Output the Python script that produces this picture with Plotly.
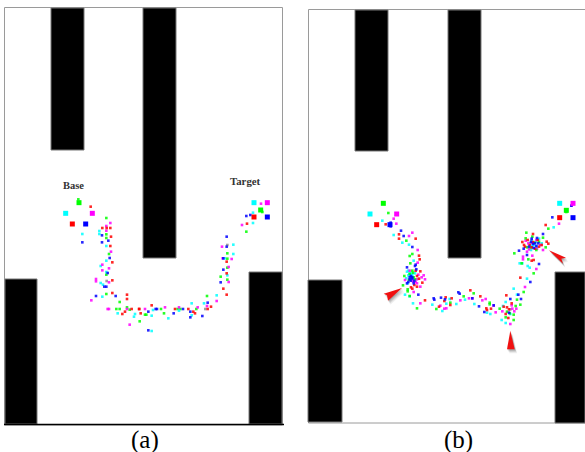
import numpy as np
import plotly.graph_objects as go

# Panel (a) readings, in crop units (origin 50,170; 3 units per picture pixel)
a_big = {"#00ff00": [(87,98),(632,120)], "#00ffff": [(47,130),(612,98)], "#ff00ff": [(127,130),(652,98)],
         "#ff0000": [(67,162),(612,141)], "#0000ff": [(107,162),(652,141)]}
a_red = [(122,110),(157,174),(181,174),(183,200),(181,228),(187,277),(187,331),(187,369),(231,374),(231,387),(225,425),(217,432),(245,417),(272,430),(267,417),(305,406),(375,417),(415,417),(430,425),(435,430),(473,417),(483,410),(530,374),(520,356),(530,310),(530,275),(591,161),(170,174),(268,417)]
a_green = [(85,88),(169,144),(169,193),(169,204),(177,252),(169,314),(169,372),(209,396),(199,417),(209,417),(231,412),(239,419),(285,434),(289,434),(269,454),(333,417),(342,430),(383,417),(391,417),(439,417),(471,378),(512,320),(532,329),(532,293),(532,266),(532,250),(589,185),(637,126)]
a_blue = [(97,217),(156,196),(156,217),(175,212),(179,264),(173,309),(163,350),(169,350),(138,378),(197,378),(295,425),(317,417),(321,417),(295,481),(371,430),(399,417),(421,425),(421,442),(457,438),(473,398),(512,337),(520,299),(530,230),(530,200),(520,265),(589,138),(601,135)]
a_cyan = [(97,192),(148,183),(148,192),(169,228),(169,272),(152,288),(169,306),(152,339),(159,344),(157,380),(203,430),(255,432),(252,440),(305,437),(309,420),(355,445),(387,422),(425,400),(425,436),(462,400),(500,376),(532,316),(550,224),(550,252),(609,159),(609,128),(305,483),(524,265)]
a_magenta = [(181,159),(169,168),(169,182),(183,245),(157,284),(177,295),(157,301),(138,327),(138,334),(177,337),(124,391),(173,417),(177,417),(231,417),(285,417),(345,412),(387,412),(443,412),(471,408),(500,393),(545,267),(536,291),(536,336),(516,230),(576,165),(633,101),(239,464),(518,265)]
a_gray = [(170,333),(466,417),(532,225)]

# Panel (b) readings, in crop units (origin 355,190; 3 units per picture pixel)
b_big = {"#00ff00": [(85,40),(634,61)], "#00ffff": [(45,72),(614,40)], "#ff00ff": [(125,72),(654,40)],
         "#ff0000": [(65,104),(614,83)], "#0000ff": [(105,104),(654,83)]}
b_red = [(92,103),(132,133),(132,146),(182,146),(192,197),(194,208),(182,242),(196,244),(186,258),(192,266),(202,278),(168,292),(172,296),(186,290),(210,331),(290,325),(272,322),(268,333),(252,350),(286,345),(346,301),(376,319),(394,355),(408,356),(396,360),(454,316),(446,350),(456,352),(470,340),(462,358),(452,372),(460,384),(496,263),(502,156),(534,132),(507,165),(510,170),(524,165),(534,156),(540,176),(548,150),(575,155),(580,161),(572,105),(530,212),(536,210),(552,170),(518,150),(530,172),(560,165),(178,285)]
b_green = [(100,69),(154,152),(172,192),(164,198),(166,220),(172,242),(148,258),(164,252),(176,262),(180,268),(162,270),(144,286),(158,298),(158,304),(164,318),(186,355),(244,357),(286,338),(326,319),(356,310),(404,338),(404,343),(434,356),(486,329),(496,344),(482,348),(476,374),(476,390),(464,370),(452,382),(506,306),(536,250),(478,190),(514,128),(512,145),(564,143),(528,172),(544,180),(572,172),(520,208),(500,220),(580,116),(634,66),(538,158),(552,155),(516,172),(532,140),(170,262),(174,248),(456,365)]
b_blue = [(107,98),(107,104),(107,109),(138,122),(146,138),(172,171),(182,224),(180,228),(156,232),(184,238),(168,258),(172,262),(164,268),(168,272),(160,276),(176,280),(156,280),(190,314),(236,325),(238,329),(258,323),(270,328),(310,307),(314,311),(352,325),(372,349),(388,366),(416,346),(466,327),(490,314),(498,327),(526,276),(552,222),(492,182),(506,176),(516,195),(530,146),(546,144),(564,132),(540,160),(528,155),(522,170),(550,160),(592,82),(649,47),(534,162),(544,168),(536,174),(172,266),(164,262),(178,272),(462,368)]
b_cyan = [(82,92),(116,135),(142,158),(162,164),(176,212),(156,245),(160,242),(164,250),(170,250),(154,265),(158,280),(172,255),(180,250),(150,314),(164,319),(174,340),(232,344),(262,363),(274,341),(304,342),(284,327),(330,329),(358,342),(406,372),(396,368),(440,390),(452,399),(444,348),(452,336),(486,314),(476,296),(516,266),(494,220),(502,220),(518,228),(524,233),(596,112),(530,150),(536,165),(548,148),(560,160),(545,170),(528,180),(526,160),(552,146),(542,156),(532,168),(166,258),(160,256),(466,372)]
b_magenta = [(124,101),(116,86),(172,128),(162,138),(188,180),(188,218),(164,242),(206,256),(210,268),(200,262),(190,254),(150,270),(182,276),(186,280),(196,290),(176,306),(196,340),(256,347),(268,356),(274,355),(316,331),(342,325),(352,325),(382,331),(392,327),(422,367),(416,347),(442,364),(466,402),(472,356),(484,356),(478,364),(470,346),(510,291),(544,237),(504,200),(504,208),(532,197),(516,185),(512,152),(520,160),(544,150),(564,180),(556,165),(612,101),(650,47),(530,158),(546,176),(522,178),(186,268),(174,274)]
b_gray = [(466,358)]

# Maze layout, picture pixels: (x0, y0, x1, y1)
a_frame = (4.5, 7.5, 282.5, 425)
b_frame = (308.5, 9.5, 586, 423)
a_walls = [(51,8,84,150),(143,8,176,258),(5,279,37,424),(249,272,282,424)]
b_walls = [(355,10,388,151),(448,10,481,258),(308,280,342,422),(555,272,585,423)]
# Arrowheads in panel (b) crop units
arrows = [[(141,294),(86,311),(96,316),(99,332)],
          [(582,181),(633,203),(619,206),(624,221)],
          [(466,422),(456,478),(479,478)]]
labels = [("Base",73,185,10.5,True),("Target",245,181,10.8,True),("(a)",145,440,25,False),("(b)",458,440,25,False)]

A0, B0 = (50,170), (355,190)
def to_px(pts, o):
    p = np.array(pts, float)
    return o[0] + p[:,0]/3, o[1] + p[:,1]/3

fig = go.Figure()
shapes = []
def rect(r, **k):
    shapes.append(dict(type="rect", x0=r[0], y0=r[1], x1=r[2], y1=r[3], layer="below", **k))
for fr in (a_frame, b_frame):
    rect(fr, line=dict(color="#9a9a9a", width=1), fillcolor="white")
for w in a_walls + b_walls:
    rect(w, line=dict(color="#777777", width=1), fillcolor="black")
shapes.append(dict(type="line", x0=4, x1=284, y0=424.5, y1=424.5, line=dict(color="black", width=1.5)))

def poly(xs, ys, **k):
    shapes.append(dict(type="path", path="M " + " L ".join(f"{x:.1f},{y:.1f}" for x,y in zip(xs,ys)) + " Z", line=dict(width=0), **k))
for ar in arrows:
    xs, ys = to_px(ar, B0)
    for d,op in ((4.0,.08),(3.0,.12),(2.0,.16),(1.0,.22)):
        poly(xs+d*.6, ys+d, fillcolor=f"rgba(60,60,60,{op})")
    poly(xs, ys, fillcolor="#f01010")

def pts(p, o, color, size, opacity=1):
    x, y = to_px(p, o)
    fig.add_trace(go.Scatter(x=x, y=y, mode="markers", showlegend=False, hoverinfo="skip",
        marker=dict(symbol="square", size=size, color=color, opacity=opacity, line=dict(width=0))))
for o, big, sets in ((A0, a_big, [(a_gray,"#8c8c8c"),(a_green,"#00ff00"),(a_cyan,"#00ffff"),(a_magenta,"#ff00ff"),(a_red,"#ff0000"),(a_blue,"#0000ff")]),
                     (B0, b_big, [(b_gray,"#8c8c8c"),(b_cyan,"#00ffff"),(b_magenta,"#ff00ff"),(b_green,"#00ff00"),(b_red,"#ff0000"),(b_blue,"#0000ff")])):
    for p, c in sets:
        pts(p, o, c, 2.6, 0.85)
    for c, p in big.items():
        pts(p, o, c, 5)

ann = [dict(x=x, y=y, text=f"<b>{t}</b>" if b else t, showarrow=False, xref="x", yref="y",
            font=dict(family="Liberation Serif", size=s, color="#333333" if b else "black"))
       for t,x,y,s,b in labels]
fig.update_layout(width=585, height=452, margin=dict(l=0,r=0,t=0,b=0), paper_bgcolor="white", plot_bgcolor="white",
    shapes=shapes, annotations=ann, showlegend=False,
    xaxis=dict(range=[0,585], visible=False, fixedrange=True),
    yaxis=dict(range=[452,0], visible=False, fixedrange=True))
fig.write_html("out.html", config=dict(displayModeBar=False),
               post_script="document.body.style.margin='0';document.documentElement.style.overflow='hidden';")
